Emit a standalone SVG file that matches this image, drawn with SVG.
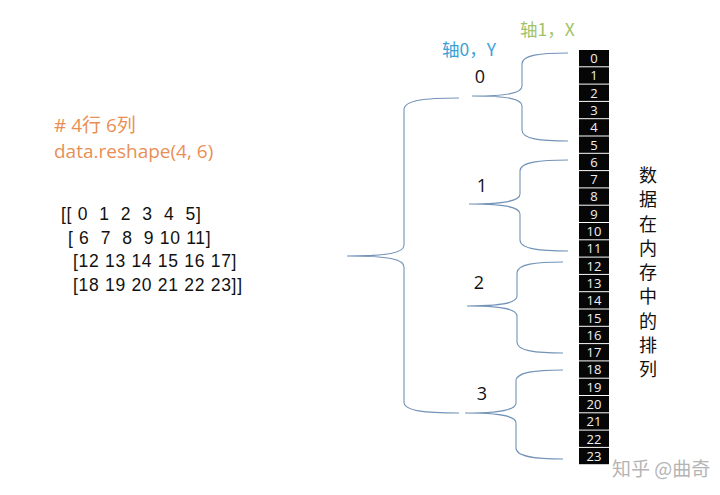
<svg xmlns="http://www.w3.org/2000/svg" width="720" height="495" viewBox="0 0 720 495">
<style>
.cell{fill:#060606}
.cn{font-family:"Open Sans","DejaVu Sans",sans-serif;font-size:13px;fill:#f0f0f0;text-anchor:middle}
.br{fill:none;stroke:#7393b8;stroke-width:1.1}
.idx{font-family:"Open Sans","Liberation Sans",sans-serif;font-size:18px;fill:#111;text-anchor:middle}
.code{font-family:"Open Sans","Noto Sans CJK SC",sans-serif;font-size:19px;fill:#e98f55}
.mat{font-family:"Liberation Sans",Arial,sans-serif;font-size:17.5px;fill:#111;letter-spacing:0.7px;white-space:pre}
.ax{font-family:"Noto Sans CJK SC",sans-serif;font-size:17.5px}
.vt{font-family:"Noto Sans CJK SC",sans-serif;font-size:18px;fill:#111;text-anchor:middle}
.wm{font-family:"Noto Sans CJK SC",sans-serif;font-size:19px;fill:#b4b4b4}
</style>
<rect width="720" height="495" fill="#ffffff"/>

<g id="code">
<text class="code" x="54" y="132"># 4行 6列</text>
<text class="code" x="54" y="158">data.reshape(4, 6)</text>
</g>

<g id="matrix">
<text class="mat" x="61" y="220" xml:space="preserve">[[ 0  1  2  3  4  5]</text>
<text class="mat" x="68" y="243.5" xml:space="preserve">[ 6  7  8  9 10 11]</text>
<text class="mat" x="73" y="267" xml:space="preserve">[12 13 14 15 16 17]</text>
<text class="mat" x="73" y="290.5" xml:space="preserve">[18 19 20 21 22 23]]</text>
</g>

<g id="connectors">
<path class="br" d="M459,98 C425,98 404,100 404,110 L404,245 C404,253 388,256 347,256 C388,256 404,259 404,267 L404,402 C404,411 425,413 459,413"/>
<path class="br" d="M568,53 C540,53 522,55 522,64 L522,86 C522,93 508,96 472,96 C508,96 522,99 522,106 L522,130 C522,139 540,141 568,141"/>
<path class="br" d="M568,160 C540,160 520,162 520,171 L520,194 C520,201 505,204 469,204 C505,204 520,207 520,214 L520,240 C520,249 540,251 568,251"/>
<path class="br" d="M563,262 C536,262 517,264 517,273 L517,296 C517,303 502,306 467,306 C502,306 517,309 517,316 L517,342 C517,351 536,353 563,353"/>
<path class="br" d="M563,370 C536,370 516,372 516,381 L516,403 C516,410 501,413 465,413 C501,413 516,416 516,423 L516,448 C516,457 536,459 563,459"/>
</g>

<g id="axis0"><text class="ax" x="442" y="56" fill="#3aa2d8">轴0，Y</text></g>
<g id="axis1"><text class="ax" x="520" y="36" fill="#9fc36a">轴1，X</text></g>

<g id="row0"><text class="idx" x="480" y="83">0</text></g>
<g id="row1"><text class="idx" x="482" y="192">1</text></g>
<g id="row2"><text class="idx" x="479" y="289">2</text></g>
<g id="row3"><text class="idx" x="482" y="400">3</text></g>

<g id="cell0"><rect class="cell" x="579" y="50" width="30" height="16.3"/><text class="cn" x="594" y="63">0</text></g>
<g id="cell1"><rect class="cell" x="579" y="67.3" width="30" height="16.3"/><text class="cn" x="594" y="80.3">1</text></g>
<g id="cell2"><rect class="cell" x="579" y="84.6" width="30" height="16.3"/><text class="cn" x="594" y="97.6">2</text></g>
<g id="cell3"><rect class="cell" x="579" y="101.9" width="30" height="16.3"/><text class="cn" x="594" y="114.9">3</text></g>
<g id="cell4"><rect class="cell" x="579" y="119.2" width="30" height="16.3"/><text class="cn" x="594" y="132.2">4</text></g>
<g id="cell5"><rect class="cell" x="579" y="136.5" width="30" height="16.3"/><text class="cn" x="594" y="149.5">5</text></g>
<g id="cell6"><rect class="cell" x="579" y="153.8" width="30" height="16.3"/><text class="cn" x="594" y="166.8">6</text></g>
<g id="cell7"><rect class="cell" x="579" y="171.1" width="30" height="16.3"/><text class="cn" x="594" y="184.1">7</text></g>
<g id="cell8"><rect class="cell" x="579" y="188.4" width="30" height="16.3"/><text class="cn" x="594" y="201.4">8</text></g>
<g id="cell9"><rect class="cell" x="579" y="205.7" width="30" height="16.3"/><text class="cn" x="594" y="218.7">9</text></g>
<g id="cell10"><rect class="cell" x="579" y="223" width="30" height="16.3"/><text class="cn" x="594" y="236">10</text></g>
<g id="cell11"><rect class="cell" x="579" y="240.3" width="30" height="16.3"/><text class="cn" x="594" y="253.3">11</text></g>
<g id="cell12"><rect class="cell" x="579" y="257.6" width="30" height="16.3"/><text class="cn" x="594" y="270.6">12</text></g>
<g id="cell13"><rect class="cell" x="579" y="274.9" width="30" height="16.3"/><text class="cn" x="594" y="287.9">13</text></g>
<g id="cell14"><rect class="cell" x="579" y="292.2" width="30" height="16.3"/><text class="cn" x="594" y="305.2">14</text></g>
<g id="cell15"><rect class="cell" x="579" y="309.5" width="30" height="16.3"/><text class="cn" x="594" y="322.5">15</text></g>
<g id="cell16"><rect class="cell" x="579" y="326.8" width="30" height="16.3"/><text class="cn" x="594" y="339.8">16</text></g>
<g id="cell17"><rect class="cell" x="579" y="344.1" width="30" height="16.3"/><text class="cn" x="594" y="357.1">17</text></g>
<g id="cell18"><rect class="cell" x="579" y="361.4" width="30" height="16.3"/><text class="cn" x="594" y="374.4">18</text></g>
<g id="cell19"><rect class="cell" x="579" y="378.7" width="30" height="16.3"/><text class="cn" x="594" y="391.7">19</text></g>
<g id="cell20"><rect class="cell" x="579" y="396" width="30" height="16.3"/><text class="cn" x="594" y="409">20</text></g>
<g id="cell21"><rect class="cell" x="579" y="413.3" width="30" height="16.3"/><text class="cn" x="594" y="426.3">21</text></g>
<g id="cell22"><rect class="cell" x="579" y="430.6" width="30" height="16.3"/><text class="cn" x="594" y="443.6">22</text></g>
<g id="cell23"><rect class="cell" x="579" y="447.9" width="30" height="16.3"/><text class="cn" x="594" y="460.9">23</text></g>

<g id="memory-label">
<text class="vt"><tspan x="648" y="182">数</tspan><tspan x="648" y="206">据</tspan><tspan x="648" y="230.5">在</tspan><tspan x="648" y="254.5">内</tspan><tspan x="648" y="279">存</tspan><tspan x="648" y="303">中</tspan><tspan x="648" y="327.5">的</tspan><tspan x="648" y="351.5">排</tspan><tspan x="648" y="376">列</tspan></text>
</g>

<g id="watermark"><text class="wm" x="612" y="476">知乎 @曲奇</text></g>
</svg>
